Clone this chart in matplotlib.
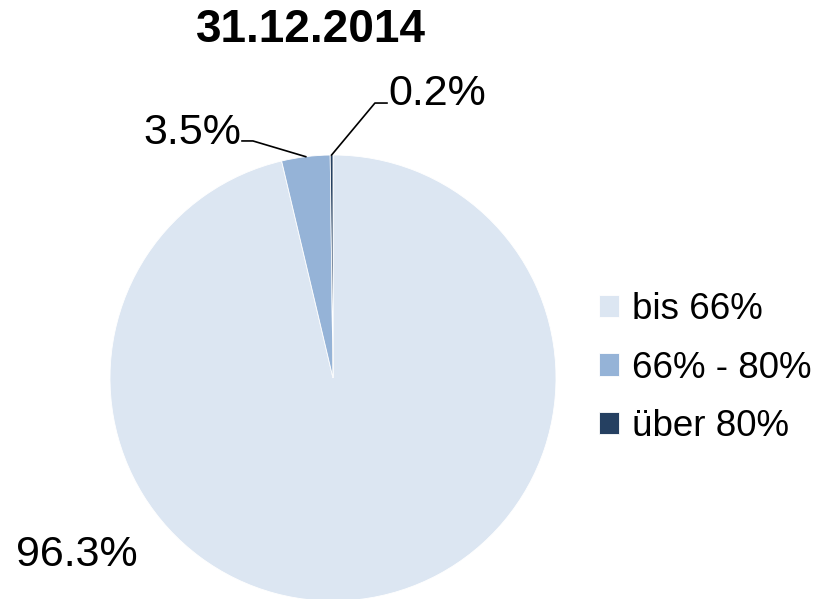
import numpy as np
import matplotlib.pyplot as plt

plt.rcParams['font.family'] = ['Liberation Sans', 'DejaVu Sans']

title = "31.12.2014"
categories = ["bis 66%", "66% - 80%", "über 80%"]
shares = [96.3, 3.5, 0.2]
colors = ['#DCE6F2', '#95B3D7', '#254061']

fig = plt.figure(figsize=(8.25, 5.99), dpi=100)
W, H = 825, 599
cx, cy, r = 333, 378, 223
ax = fig.add_axes([(cx - r) / W, (H - cy - r) / H, 2 * r / W, 2 * r / H])

wedges, _ = ax.pie(shares, colors=colors, startangle=90, counterclock=False,
                   radius=1, wedgeprops=dict(edgecolor='white', linewidth=0.6))
ax.set_xlim(-1, 1)
ax.set_ylim(-1, 1)
ax.set_aspect('equal')
ax.axis('off')


def edge_point(w):
    a = np.deg2rad((w.theta1 + w.theta2) / 2)
    return np.cos(a), np.sin(a)


# label positions (in pie radius units)
lab_fs = 31
ax.text(-1.148, -0.794, f"{shares[0]}%", fontsize=lab_fs, ha='center', va='center')

# 3.5%
px, py = edge_point(wedges[1])
ax.plot([px, -0.359, -0.408], [py, 1.063, 1.063], color='black', lw=1.2, clip_on=False)
ax.text(-0.41, 1.10, f"{shares[1]}%", fontsize=lab_fs, ha='right', va='center')

# 0.2%
px, py = edge_point(wedges[2])
ax.plot([px, 0.188, 0.242], [py, 1.233, 1.233], color='black', lw=1.2, clip_on=False)
ax.text(0.25, 1.275, f"{shares[2]}%", fontsize=lab_fs, ha='left', va='center')

fig.text(311 / W, 1 - 30 / H, title, fontsize=33, fontweight='bold', ha='center', va='center')

fig.legend(wedges, categories, loc='center left', bbox_to_anchor=(599 / W, 1 - 368 / H),
           frameon=False, fontsize=26.5, handlelength=0.55, handleheight=0.55,
           handletextpad=0.35, labelspacing=0.63, borderaxespad=0, borderpad=0)

fig.savefig("out.png", dpi=100)
